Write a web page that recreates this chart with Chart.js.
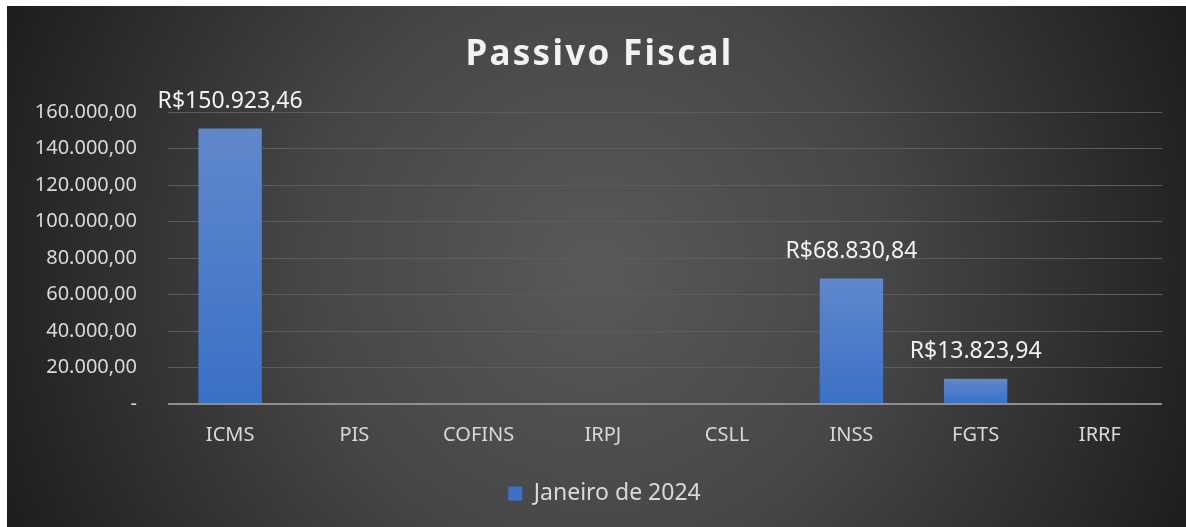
<!DOCTYPE html>
<html>
<head>
<meta charset="utf-8">
<script src="https://cdn.jsdelivr.net/npm/chart.js@4.4.1/dist/chart.umd.min.js"></script>
<style>
  html, body { margin: 0; padding: 0; background: #ffffff; }
  #box { position: absolute; left: 7px; top: 6px; width: 1179px; height: 521px; }
</style>
</head>
<body>
<div id="box"><canvas id="passivo"></canvas></div>
<script>
// dados do grafico
var categorias = ['ICMS', 'PIS', 'COFINS', 'IRPJ', 'CSLL', 'INSS', 'FGTS', 'IRRF'];
var valoresJan2024 = [150923.46, 0, 0, 0, 0, 68830.84, 13823.94, 0];
var serieLabel = 'Janeiro de 2024';
var tituloGrafico = 'Passivo Fiscal';

function formatNum(v) {
    var parts = v.toFixed(2).split('.');
    var inteiro = parts[0].replace(/\B(?=(\d{3})+(?!\d))/g, '.');
    return inteiro + ',' + parts[1];
}

var FONTE = "'Noto Sans', 'Open Sans', sans-serif";

// fundo radial escuro
var fundoPlugin = {
    id: 'fundo',
    afterUpdate: function(chart) {
        // legenda um pouco deslocada para a direita, como no original
        if (chart.legend) {
            chart.legend.left += 20;
            chart.legend.right += 20;
        }
    },
    beforeDraw: function(chart) {
        var ctx = chart.ctx;
        var w = chart.width, h = chart.height;
        var cx = w / 2, cy = h / 2;
        var g = ctx.createRadialGradient(cx, cy, 0, cx, cy, Math.sqrt(cx * cx + cy * cy));
        g.addColorStop(0, '#595959');
        g.addColorStop(0.45, '#464646');
        g.addColorStop(1, '#1d1d1d');
        ctx.save();
        ctx.fillStyle = g;
        ctx.fillRect(0, 0, w, h);
        ctx.restore();
    },
    afterDraw: function(chart) {
        // titulo com espacamento entre letras
        var ctx = chart.ctx;
        ctx.save();
        ctx.font = "bold 35px " + FONTE;
        ctx.fillStyle = '#f2f2f2';
        ctx.textAlign = 'center';
        ctx.textBaseline = 'middle';
        try { ctx.letterSpacing = '2.3px'; } catch (e) {}
        ctx.fillText(tituloGrafico, chart.width / 2 + 3, 49);
        ctx.restore();
    }
};

// rotulos dos valores acima das barras
var rotulosPlugin = {
    id: 'rotulos',
    afterDatasetsDraw: function(chart) {
        var ctx = chart.ctx;
        var meta = chart.getDatasetMeta(0);
        ctx.save();
        ctx.font = "23px " + FONTE;
        ctx.fillStyle = '#f2f2f2';
        ctx.textAlign = 'center';
        ctx.textBaseline = 'middle';
        meta.data.forEach(function(bar, i) {
            var v = chart.data.datasets[0].data[i];
            if (v > 0) {
                ctx.fillText('R$' + formatNum(v), bar.x, bar.y - 27);
            }
        });
        ctx.restore();
    }
};

var el = document.getElementById('passivo');

var chartPassivo = new Chart(el, {
    type: 'bar',
    data: {
        labels: categorias,
        datasets: [{
            label: serieLabel,
            data: valoresJan2024,
            barPercentage: 1,
            categoryPercentage: 0.51,
            backgroundColor: function(context) {
                var chart = context.chart;
                var area = chart.chartArea;
                if (!area || context.type !== 'data') {
                    return '#4f7cc7';
                }
                var top = chart.scales.y.getPixelForValue(context.raw);
                if (!isFinite(top) || area.bottom - top < 1) {
                    return '#4f7cc7';
                }
                var g = chart.ctx.createLinearGradient(0, top, 0, area.bottom);
                g.addColorStop(0, '#6088cb');
                g.addColorStop(1, '#3b70c6');
                return g;
            }
        }]
    },
    options: {
        responsive: true,
        maintainAspectRatio: false,
        animation: false,
        layout: {
            padding: { top: 106, right: 24, bottom: 12, left: 0 }
        },
        plugins: {
            title: { display: false },
            tooltip: { enabled: false },
            legend: {
                position: 'bottom',
                labels: {
                    color: '#d9d9d9',
                    boxWidth: 14,
                    boxHeight: 14,
                    padding: 10,
                    font: { family: FONTE, size: 23 }
                }
            }
        },
        scales: {
            y: {
                min: 0,
                max: 160000,
                afterFit: function(scale) {
                    scale.width = 161;
                },
                ticks: {
                    stepSize: 20000,
                    color: '#d9d9d9',
                    padding: 31,
                    font: { family: FONTE, size: 20 },
                    callback: function(value) {
                        if (value === 0) return '-';
                        return formatNum(value);
                    }
                },
                border: { display: false },
                grid: {
                    drawTicks: false,
                    color: function(ctx) {
                        return ctx.tick && ctx.tick.value === 0 ? '#8e8e8e' : '#5c5c5c';
                    },
                    lineWidth: function(ctx) {
                        return ctx.tick && ctx.tick.value === 0 ? 2 : 1;
                    }
                }
            },
            x: {
                afterFit: function(scale) {
                    scale.height = 68;
                },
                ticks: {
                    color: '#d9d9d9',
                    padding: 19,
                    font: { family: FONTE, size: 20 }
                },
                border: { display: false },
                grid: { display: false, drawTicks: false }
            }
        }
    },
    plugins: [fundoPlugin, rotulosPlugin]
});
</script>
</body>
</html>
